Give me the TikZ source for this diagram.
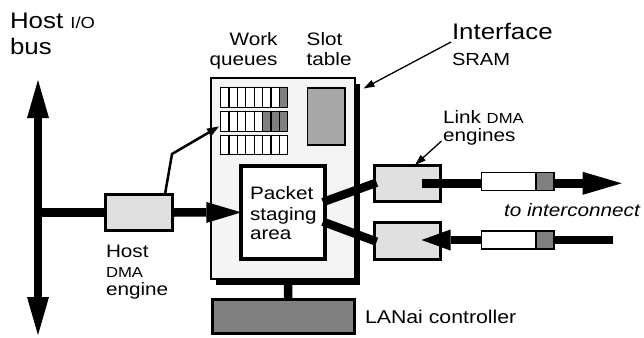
\documentclass[tikz,border=0pt]{standalone}
\usepackage{fontspec}
\setmainfont{Liberation Sans}[FakeStretch=1.15]
\usetikzlibrary{arrows.meta}
\definecolor{lgray}{HTML}{E0E0E0}
\definecolor{bgray}{HTML}{F4F4F4}
\definecolor{sgray}{HTML}{A8A8A8}
\definecolor{dgray}{HTML}{808080}
\newcommand\fsz[1]{\fontsize{#1}{#1}\selectfont}
\begin{document}
\begin{tikzpicture}[x=1pt,y=-1pt,
  lbl/.style={anchor=base west,inner sep=0pt,outer sep=0pt},
  lblr/.style={anchor=base east,inner sep=0pt,outer sep=0pt},
  dmabox/.style={draw,line width=3pt,fill=lgray,inner sep=0pt,outer sep=0pt,minimum width=65.4pt,minimum height=36.5pt},
  fatline/.style={line width=8.5pt},
  thinarrow/.style={line width=1.3pt,-{Triangle[length=11pt,width=7pt]}},
  qcell/.style={draw,line width=1.2pt,fill=white},
  pkt/.style={draw,line width=1.2pt,inner sep=0pt,outer sep=0pt,minimum height=18pt}
]
\useasboundingbox (0,0) rectangle (644,337);

% Host I/O bus
\node[lbl] (hostio) at (10,29) {\fsz{22.5}Host {\fsz{16}I/O}};
\node[lbl] (bus) at (10,54) {\fsz{22.5}bus};
\coordinate (bustop) at (38,80);
\coordinate (busbot) at (38,335);
\coordinate (busjoin) at (38,212.5);
\draw[fatline,{Triangle[length=38pt,width=22pt,line width=0pt]}-{Triangle[length=38pt,width=22pt,line width=0pt]}] (bustop) -- (busbot);

% Interface board with shadow
\fill (216,84) rectangle (360,285);
\node[draw,line width=1.2pt,fill=bgray,inner sep=0pt,outer sep=0pt,minimum width=144pt,minimum height=201pt] (board) at (283,178.5) {};

% Work queues
\foreach \y in {87.7,111.7,135.3}{
  \foreach \i in {0,...,7}{
    \draw[qcell] ({220.7+8.375*\i},\y) rectangle ++(8.375,19.5);
  }
}
\draw[qcell,fill=dgray] ({220.7+8.375*7},87.7) rectangle ++(8.375,19.5);
\foreach \i in {5,6,7}{
  \draw[qcell,fill=dgray] ({220.7+8.375*\i},111.7) rectangle ++(8.375,19.5);
}
\coordinate (qtip) at (219,126.5);

% Slot table
\node[draw,line width=1.5pt,fill=sgray,inner sep=0pt,outer sep=0pt,minimum width=37.5pt,minimum height=57pt] (slot) at (326,116.7) {};

% labels above board
\node[lblr] (work) at (277.5,45.7) {\fsz{18}Work};
\node[lblr] (queues) at (277.5,65) {\fsz{18}queues};
\node[lbl] (slotl) at (306.7,45.7) {\fsz{18}Slot};
\node[lbl] (tablel) at (306.7,65) {\fsz{18}table};

% Interface SRAM label
\node[lbl] (iface) at (452,39.5) {\fsz{22.5}Interface};
\node[lbl] (sram) at (452,66) {\fsz{17.5}SRAM};
\coordinate (ifstart) at (451,42);
\coordinate (iftip) at (363.5,88.5);
\draw[thinarrow] (ifstart) -- (iftip);

% Packet staging area
\node[draw,line width=4pt,fill=white,inner sep=0pt,outer sep=0pt,minimum width=83.4pt,minimum height=92.7pt] (stage) at (283,212.4) {};
\node[lbl] (p1) at (250,199.3) {\fsz{18}Packet};
\node[lbl] (p2) at (250,220) {\fsz{18}staging};
\node[lbl] (p3) at (250,239.3) {\fsz{18}area};

% Host DMA engine
\node[dmabox,minimum width=67pt] (hostdma) at (139,212.5) {};
\node[lbl] (h1) at (106,257) {\fsz{18}Host};
\node[lbl] (h2) at (106,277.5) {\fsz{14.5}DMA};
\node[lbl] (h3) at (106,295) {\fsz{18}engine};
\draw[fatline] (busjoin) -- (hostdma.west);
\draw[fatline,-{Triangle[length=35pt,width=21pt,line width=0pt]}] (hostdma.east) -- (stage.west);
\coordinate (knee) at (172,154);
\draw[line width=2.5pt,-{Triangle[length=12pt,width=9pt,line width=0pt]}] ([xshift=26pt]hostdma.north) -- (knee) -- (qtip);

% LANai controller
\node[draw,line width=3pt,fill=dgray,inner sep=0pt,outer sep=0pt,minimum width=142pt,minimum height=34pt] (lanai) at (283.2,316.5) {};
\draw[fatline] ([xshift=5pt]board.south) -- ([xshift=5pt]lanai.north);
\node[lbl] (lanail) at (365,323.5) {\fsz{18.5}LANai controller};

% Link DMA engines
\node[dmabox] (link1) at (407.5,183.3) {};
\node[dmabox] (link2) at (407.5,241) {};
\draw[fatline,shorten <=-2pt,shorten >=-2pt] ([yshift=11pt]stage.east) -- (link1.west);
\draw[fatline,shorten <=-2pt,shorten >=-2pt] ([yshift=-10pt]stage.east) -- (link2.west);
\node[lbl] (linkl) at (443,123.3) {\fsz{18}Link {\fsz{14.5}DMA}};
\node[lbl] (engl) at (443,141) {\fsz{18}engines};
\coordinate (lkstart) at (441.5,141);
\draw[thinarrow] (lkstart) -- ([xshift=7.5pt]link1.north);

% outgoing / incoming
\coordinate (outend) at (621.7,183.3);
\draw[fatline,-{Triangle[length=39pt,width=23pt,line width=0pt]}] ([xshift=14pt]link1.center) -- (outend);
\node[pkt,fill=white,minimum width=54.3pt] (outpkt) at (508.85,181.5) {};
\node[pkt,fill=dgray,minimum width=18pt,anchor=west] (outtail) at (outpkt.east) {};

\coordinate (instart) at (613,240);
\draw[fatline,-{Triangle[length=29pt,width=21pt,line width=0pt]}] (instart) -- ([xshift=14pt,yshift=1pt]link2.center);
\node[pkt,fill=white,minimum width=54.3pt] (inpkt) at (508.85,240) {};
\node[pkt,fill=dgray,minimum width=18pt,anchor=west] (intail) at (inpkt.east) {};

\node[lbl] (toint) at (504,216.7) {\fsz{18}\itshape to interconnect};
\end{tikzpicture}
\end{document}
